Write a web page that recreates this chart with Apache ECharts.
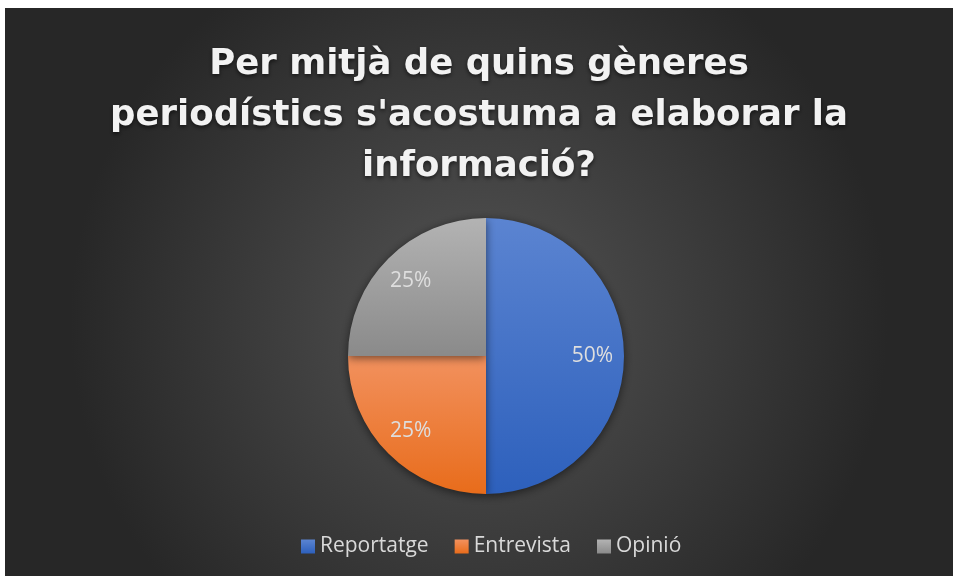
<!DOCTYPE html>
<html>
<head>
<meta charset="utf-8">
<script src="https://cdn.jsdelivr.net/npm/echarts@6/dist/echarts.min.js"></script>
<style>
  html, body { margin: 0; padding: 0; background: #fff; }
  #chart { position: absolute; left: 5px; top: 8px; width: 948px; height: 568px; }
</style>
</head>
<body>
<div id="chart"></div>
<script>
// dades
var categories = ["Reportatge", "Entrevista", "Opinió"];
var values = [50, 25, 25];
var titleText = "Per mitjà de quins gèneres\nperiodístics s'acostuma a elaborar la\ninformació?";

// colors amb degradat vertical (com a l'original)
var colorsTop = ["#5b84d1", "#f2915e", "#b3b3b3"];
var colorsBottom = ["#2d60bc", "#e86c1b", "#8a8a8a"];

function grad(i) {
  return new echarts.graphic.LinearGradient(0, 0, 0, 1, [
    { offset: 0, color: colorsTop[i] },
    { offset: 1, color: colorsBottom[i] }
  ]);
}

var pieData = categories.map(function (name, i) {
  return { name: name, value: values[i], itemStyle: { color: grad(i) } };
});
// serie auxiliar només per col·locar les etiquetes més cap a fora
var labelData = categories.map(function (name, i) {
  return { name: name, value: values[i] };
});

var chart = echarts.init(document.getElementById("chart"));
var option = {
  backgroundColor: {
    type: "radial", x: 0.5, y: 0.55, r: 0.72,
    colorStops: [
      { offset: 0, color: "#545454" },
      { offset: 1, color: "#272727" }
    ]
  },
  title: {
    text: titleText,
    left: "center",
    top: 26,
    padding: [5, 0, 5, 10],
    textStyle: {
      fontFamily: "DejaVu Sans",
      fontWeight: "bold",
      fontSize: 35.5,
      lineHeight: 51,
      color: "#f2f2f2",
      textShadowColor: "rgba(0,0,0,0.6)",
      textShadowBlur: 4,
      textShadowOffsetY: 2
    }
  },
  legend: {
    data: categories,
    bottom: 14,
    left: 291,
    itemWidth: 14,
    itemHeight: 14,
    itemGap: 26,
    icon: "rect",
    textStyle: { color: "#d9d9d9", fontSize: 21, fontFamily: "Open Sans" }
  },
  series: [
    {
      type: "pie",
      center: [481, 348],
      radius: 138,
      startAngle: 90,
      clockwise: true,
      silent: true,
      label: { show: false },
      labelLine: { show: false },
      itemStyle: {
        shadowColor: "rgba(0,0,0,0.55)",
        shadowBlur: 10,
        shadowOffsetY: 2
      },
      data: pieData
    },
    {
      type: "pie",
      center: [481, 348],
      radius: [69, 138],
      startAngle: 90,
      clockwise: true,
      silent: true,
      itemStyle: { color: "transparent" },
      label: {
        show: true,
        position: "inside",
        formatter: "{d}%",
        color: "#dedede",
        fontSize: 21,
        fontFamily: "Open Sans"
      },
      labelLine: { show: false },
      data: labelData
    }
  ]
};
chart.setOption(option);
</script>
</body>
</html>
